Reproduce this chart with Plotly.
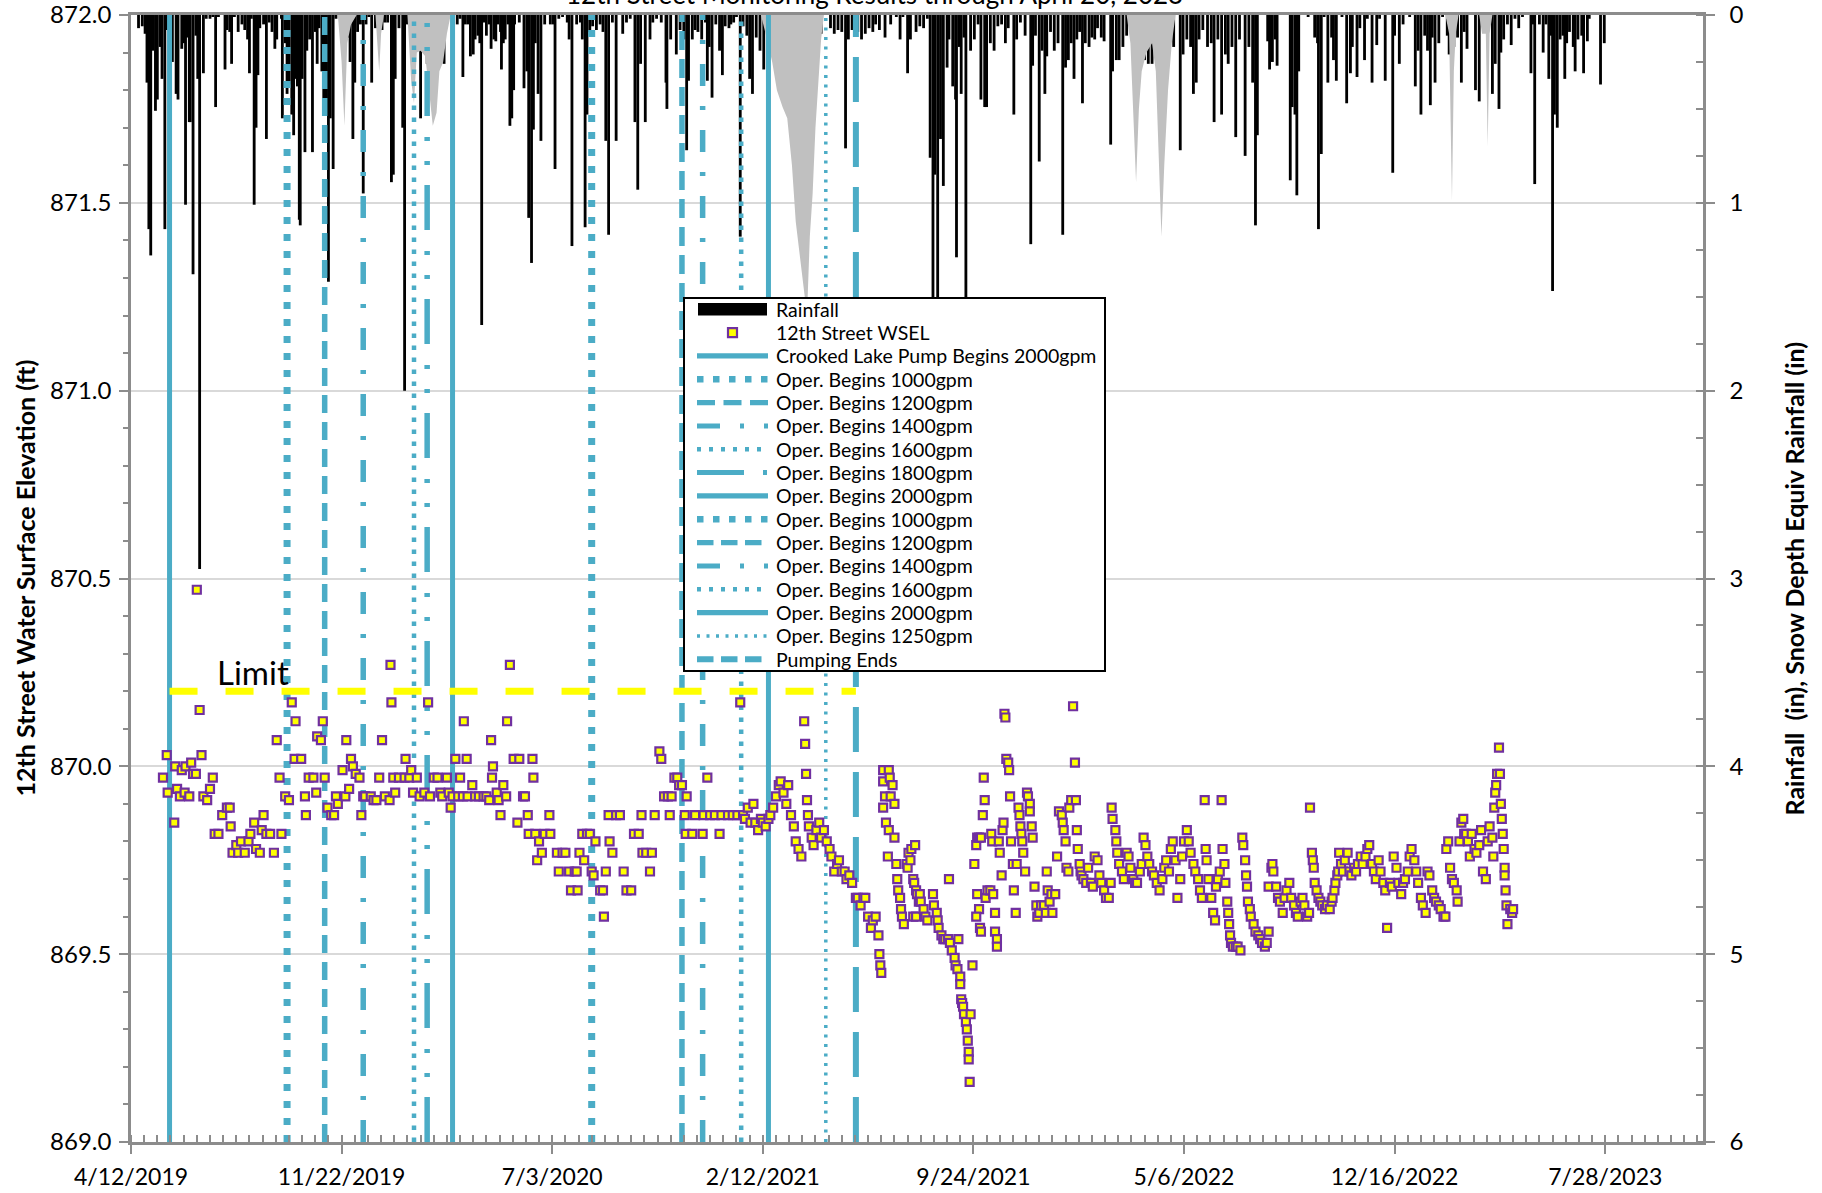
import pandas as pd
import plotly.graph_objects as go

BASE = pd.Timestamp("2019-04-12")
DAY_MS = 86400000

# ---------------- DATA (day offsets from 4/12/2019) ----------------
# Daily rainfall (in)
rain_2019 = [(8, .07), (12, .06), (15, .10), (17, .36), (19, 1.14), (21, 1.28), (23, .19), (26, .51), (28, .45),
    (31, .17), (33, .34), (36, 1.14), (38, .08), (44, .25), (48, .42), (50, .45), (54, .18), (56, .15), (58, 1.01),
    (60, .12), (62, .57), (63, .57), (66, 1.38), (69, .11), (71, .34), (73, 2.95), (77, .31), (80, .02), (84, .02),
    (87, .01), (90, .49), (93, .01), (100, .29), (102, .08), (105, .09), (107, .26), (110, .01), (114, .09), (118, .05),
    (121, .08), (124, .13), (126, .31), (128, .02), (131, 1.01), (133, .60), (135, .32), (137, .07), (141, .05),
    (144, .66), (147, .04), (150, .09), (153, .18), (155, .13), (160, .02), (161, .55), (164, .15), (166, .42),
    (168, .37), (171, .53), (173, .64), (175, .34), (177, .38), (179, 1.09), (180, 1.12), (182, .34), (185, .73),
    (187, .19), (190, .13), (193, .73), (196, .09), (198, .26), (200, .07), (203, .30), (205, .45), (207, .51),
    (210, 1.42), (212, .55), (215, .82), (218, .02), (224, .05), (228, .09), (231, .12), (233, .25), (236, .66),
    (238, .36), (241, .09), (244, .05), (247, .95), (250, .05), (253, .01), (256, .36), (260, .07), (264, .01),
    (267, .08), (270, .04), (273, .04), (277, .89), (279, .85), (281, .34), (285, .07), (289, .60), (291, 2.00),
    (294, .05), (299, .04), (304, .19), (306, .13), (308, .55), (311, .13), (315, .26), (319, .15), (322, .11),
    (324, .25), (327, .21), (330, .13), (333, .26), (336, .02)]
rain_2020 = [(347, .05), (350, .02), (353, .33), (355, .05), (358, .05), (361, .22), (364, .21), (366, .13),
    (369, .11), (371, .15), (373, 1.65), (375, .04), (378, .11), (381, .05), (383, .18), (386, .13), (388, .14),
    (390, .05), (393, .09), (394, .29), (396, .15), (398, .13), (401, .05), (403, .59), (405, .55), (407, .40),
    (408, .05), (413, .04), (418, .39), (421, .30), (423, 1.08), (426, 1.32), (428, .61), (430, .15), (433, .42),
    (436, .67), (440, .05), (446, .05), (449, .05), (451, .82), (455, .02), (459, .01), (464, .04), (466, .13),
    (469, 1.23), (474, .05), (478, .04), (480, .13), (483, 1.13), (485, .53), (488, .09), (491, .06), (495, .08),
    (499, .05), (502, .09), (505, .67), (508, 1.17), (512, .04), (516, .67), (523, .10), (527, .04), (531, .02),
    (536, .57), (539, .93), (542, .26), (547, .57), (552, .13), (555, .04), (559, .02), (564, .04), (569, .36),
    (570, .50), (574, .13), (580, .21), (584, .08), (588, .13), (591, .72), (593, .35), (597, .13), (600, .08),
    (603, .09), (607, .13), (611, .04), (613, .35), (615, .17), (618, .44), (622, .05), (626, .19), (629, .32),
    (632, .06), (636, .07), (638, .05), (641, .04), (644, .01), (648, 1.18), (651, .06), (655, .11), (658, .34),
    (661, .42), (665, .12), (669, .19), (673, .29), (682, .11), (686, .10), (692, .05), (698, .04), (702, .05)]
rain_2021 = [(704, .10), (709, .05), (713, .02), (719, .08), (723, .07), (727, .06), (732, .11), (734, .10),
    (744, .07), (748, .10), (752, .08), (756, .09), (760, .71), (763, .13), (767, .08), (773, .09), (777, .13),
    (781, .10), (785, .07), (789, .09), (792, .05), (796, .08), (802, .12), (808, .05), (814, .01), (818, .13),
    (821, .01), (826, .31), (829, .13), (835, .09), (839, .06), (843, .07), (847, .02), (850, .76), (853, 1.55),
    (855, .85), (858, 1.75), (861, .66), (864, .91), (868, .28), (870, .13), (874, .38), (877, .45), (878, 1.29),
    (881, .17), (883, .42), (886, .12), (888, 1.65), (893, .19), (897, .13), (901, .05), (904, .45), (908, .49),
    (910, .49), (914, .15), (918, .19), (922, .06), (926, .05), (930, .15), (933, .07), (939, .53), (942, .13),
    (946, .04), (951, .11), (957, 1.22), (959, .27), (962, .11), (966, .78), (969, .19), (972, .42), (974, .22),
    (978, .09), (982, .19), (986, .15), (991, 1.17), (994, .28), (997, .24), (1000, .15), (1003, .34), (1006, .13),
    (1009, .09), (1012, .47), (1015, .15), (1019, .17), (1022, .12), (1025, .13), (1028, .07), (1032, .12),
    (1035, .14), (1042, .69), (1044, .30), (1048, .24), (1051, .24), (1055, .17), (1059, .11), (1063, .09)]
rain_2022 = [(1069, .45), (1073, .08), (1078, .24), (1082, .26), (1086, .26), (1090, .11), (1094, .08), (1099, .11),
    (1104, .11), (1109, .17), (1116, .72), (1119, .21), (1123, .13), (1127, .17), (1130, .42), (1133, .36),
    (1136, .13), (1140, .08), (1145, .17), (1149, .15), (1152, .57), (1156, .13), (1160, .53), (1164, .21),
    (1167, .26), (1171, .17), (1175, .65), (1179, .13), (1185, .75), (1189, .17), (1193, .36), (1196, 1.12),
    (1198, .64), (1209, .14), (1211, .29), (1214, .25), (1217, .13), (1219, .27), (1233, .88), (1235, .49),
    (1238, .53), (1240, .96), (1242, .30), (1252, .01), (1259, .12), (1262, .15), (1263, 1.14), (1266, .74),
    (1269, .01), (1273, .36), (1277, .12), (1279, .24), (1282, .35), (1288, .01), (1293, .47), (1297, .31),
    (1299, .17), (1304, .33), (1307, .07), (1312, .24), (1315, .02), (1320, .36), (1325, .16), (1328, .02),
    (1334, .35), (1342, .84), (1344, .11), (1349, .26), (1353, .05), (1360, .01), (1366, .38), (1369, .19),
    (1372, .53), (1376, .11), (1379, .19), (1382, .48), (1384, .12), (1387, .36), (1391, .15), (1395, .01)]
rain_2023 = [(1400, .11), (1402, .21), (1407, .17), (1411, .12), (1415, .36), (1418, .09), (1421, .18), (1430, .40),
    (1434, .46), (1439, .05), (1442, .04), (1448, .42), (1451, .26), (1455, .50), (1457, .20), (1460, .13),
    (1464, .05), (1468, .16), (1472, .02), (1476, .07), (1480, .01), (1489, .31), (1491, .05), (1493, .90),
    (1498, .05), (1502, .20), (1505, .05), (1508, .34), (1510, .11), (1512, 1.47), (1514, .53), (1517, .60),
    (1520, .13), (1523, .11), (1525, .34), (1527, .15), (1530, .09), (1534, .17), (1536, .30), (1539, .13),
    (1543, .11), (1545, .31), (1549, .14), (1551, .02), (1563, .37), (1567, .15)]

# Snow depth equivalent rainfall (in)
snow_day = [220, 224, 227, 230, 234, 240, 260, 264, 266, 269,
            294, 298, 301, 304, 308, 313, 318, 321, 325, 328, 332, 336, 340,
            670, 676, 682, 687, 693, 698, 703, 707, 712, 716, 719, 722, 725, 728, 731, 734, 737,
            1059, 1063, 1066, 1069, 1072, 1075, 1080, 1086, 1090, 1093, 1096, 1099, 1103, 1107, 1111,
            1398, 1402, 1405, 1407, 1409, 1412, 1434, 1437, 1441, 1443, 1445, 1448]
snow_in = [0, .25, .59, .15, .05, 0, 0, .30, .10, 0,
           0, .35, .47, .20, .19, .22, .45, .59, .52, .30, .25, .10, 0,
           0, .12, .25, .40, .49, .55, .80, 1.10, 1.31, 1.45, 1.60, 1.18, .95, .60, .35, .13, 0,
           0, .15, .55, .89, .50, .30, .20, .15, .30, .70, 1.18, .80, .40, .15, 0,
           0, .10, .99, .30, .10, 0, 0, .10, .10, .70, .10, 0]

# 12th Street water surface elevation (ft)
wsel_2019 = [(34, 869.97), (38, 870.03), (39, 869.93), (46, 869.85), (47, 870.00), (49, 869.94), (52, 869.92),
    (54, 869.99), (57, 869.93), (58, 870.00), (62, 869.92), (64, 870.01), (66, 869.98), (69, 869.98), (70, 870.47),
    (73, 870.15), (75, 870.03), (77, 869.92), (81, 869.91), (84, 869.94), (87, 869.97), (89, 869.82), (93, 869.82),
    (97, 869.87), (102, 869.89), (105, 869.89), (106, 869.84), (108, 869.77), (112, 869.79), (114, 869.77),
    (117, 869.80), (121, 869.77), (125, 869.80), (127, 869.82), (131, 869.85), (133, 869.78), (137, 869.77),
    (139, 869.83), (141, 869.87), (144, 869.82), (148, 869.82), (152, 869.77), (155, 870.07), (158, 869.97),
    (160, 869.82), (164, 869.92), (168, 869.91), (171, 870.17), (174, 870.02), (175, 870.12), (181, 870.02),
    (185, 869.92), (186, 869.87), (189, 869.97), (194, 869.97), (197, 869.93), (198, 870.08), (202, 870.07),
    (204, 870.12), (206, 869.97), (209, 869.89), (213, 869.87), (216, 869.87), (218, 869.92), (220, 869.90),
    (225, 869.99), (228, 869.92), (229, 870.07), (232, 869.94), (234, 870.02), (236, 870.00), (239, 869.98),
    (243, 869.97), (245, 869.87), (247, 869.92), (249, 869.92), (255, 869.92), (258, 869.91), (261, 869.91),
    (264, 869.97), (267, 870.07), (270, 869.92), (275, 869.91), (276, 870.27), (277, 870.17), (279, 869.97),
    (281, 869.93), (285, 869.97), (291, 869.97), (292, 870.02), (296, 869.97), (298, 869.99), (300, 869.93),
    (304, 869.97), (307, 869.92), (312, 869.93), (316, 870.17), (318, 869.92), (322, 869.97), (326, 869.97),
    (329, 869.93), (331, 869.92), (336, 869.97), (338, 869.93), (340, 869.89), (342, 869.92), (345, 870.02)]
wsel_2020 = [(348, 869.92), (350, 869.97), (353, 869.92), (354, 870.12), (357, 870.02), (358, 869.92), (363, 869.95),
    (366, 869.92), (370, 869.92), (375, 869.92), (378, 869.92), (381, 869.91), (383, 870.07), (384, 869.97),
    (385, 870.00), (389, 869.93), (391, 869.91), (393, 869.87), (396, 869.95), (399, 869.92), (400, 870.12),
    (403, 870.27), (407, 870.02), (411, 869.85), (413, 870.02), (417, 869.92), (419, 869.92), (422, 869.87),
    (423, 869.82), (427, 870.02), (428, 869.97), (430, 869.82), (432, 869.75), (434, 869.80), (437, 869.77),
    (440, 869.82), (445, 869.87), (446, 869.82), (453, 869.77), (455, 869.72), (459, 869.77), (462, 869.77),
    (466, 869.72), (468, 869.67), (472, 869.72), (474, 869.72), (475, 869.67), (477, 869.77), (480, 869.82),
    (482, 869.75), (485, 869.82), (488, 869.82), (490, 869.72), (492, 869.71), (494, 869.80), (499, 869.67),
    (502, 869.67), (503, 869.60), (505, 869.72), (508, 869.87), (509, 869.80), (512, 869.77), (516, 869.87),
    (520, 869.87), (524, 869.72), (527, 869.67), (532, 869.67), (535, 869.82), (540, 869.82), (543, 869.87),
    (544, 869.77), (548, 869.77), (552, 869.72), (554, 869.77), (557, 869.87), (562, 870.04), (564, 870.02),
    (567, 869.92), (571, 869.92), (573, 869.87), (575, 869.92), (578, 869.97), (581, 869.97), (583, 869.95),
    (586, 869.95), (589, 869.87), (590, 869.82), (591, 869.92), (597, 869.82), (600, 869.87), (608, 869.82),
    (609, 869.87), (613, 869.97), (616, 869.87), (621, 869.87), (626, 869.82), (628, 869.87), (635, 869.87),
    (640, 869.87), (645, 869.87), (648, 870.17), (651, 869.87), (653, 869.86), (656, 869.89), (659, 869.85),
    (662, 869.90), (664, 869.85), (667, 869.83), (670, 869.86), (672, 869.85), (675, 869.84), (678, 869.86),
    (680, 869.87), (683, 869.89), (686, 869.92), (689, 869.95), (691, 869.96), (694, 869.93), (697, 869.90),
    (699, 869.95), (702, 869.87), (705, 869.84), (707, 869.80), (710, 869.78), (713, 869.76)]
wsel_2021 = [(716, 870.12), (717, 870.06), (718, 869.98), (719, 869.91), (720, 869.87), (721, 869.84), (724, 869.81),
    (726, 869.79), (729, 869.83), (732, 869.85), (734, 869.81), (737, 869.83), (740, 869.80), (743, 869.78),
    (745, 869.76), (748, 869.72), (751, 869.74), (753, 869.75), (756, 869.72), (759, 869.72), (761, 869.70),
    (764, 869.71), (767, 869.69), (771, 869.65), (773, 869.65), (776, 869.63), (779, 869.65), (781, 869.65),
    (784, 869.60), (787, 869.57), (789, 869.59), (792, 869.60), (795, 869.55), (796, 869.50), (797, 869.47),
    (798, 869.45), (800, 869.99), (806, 869.99), (800, 869.96), (807, 869.97), (802, 869.92), (808, 869.92),
    (810, 869.95), (812, 869.90), (800, 869.89), (803, 869.85), (806, 869.83), (812, 869.81), (805, 869.76),
    (814, 869.74), (815, 869.70), (816, 869.67), (818, 869.65), (819, 869.62), (820, 869.60), (822, 869.58),
    (825, 869.74), (826, 869.73), (827, 869.77), (829, 869.75), (830, 869.78), (834, 869.79), (832, 869.70),
    (833, 869.69), (835, 869.67), (836, 869.66), (838, 869.64), (839, 869.66), (832, 869.60), (835, 869.60),
    (840, 869.64), (843, 869.62), (845, 869.60), (847, 869.59), (853, 869.66), (854, 869.63), (857, 869.61),
    (858, 869.59), (859, 869.57), (862, 869.55), (864, 869.54), (866, 869.54), (869, 869.54), (871, 869.53),
    (873, 869.51), (876, 869.49), (877, 869.47), (879, 869.46), (882, 869.44), (882, 869.42), (883, 869.38),
    (884, 869.37), (885, 869.36), (886, 869.34), (888, 869.32), (889, 869.30), (890, 869.27), (891, 869.24),
    (891, 869.22), (892, 869.16), (880, 869.54), (893, 869.34), (895, 869.47), (870, 869.70), (897, 869.74),
    (899, 869.79), (900, 869.81), (902, 869.81), (904, 869.81), (906, 869.87), (907, 869.97), (908, 869.91),
    (900, 869.66), (902, 869.62), (899, 869.60), (903, 869.57), (904, 869.56), (909, 869.65), (911, 869.67),
    (914, 869.67), (915, 869.82), (916, 869.80), (917, 869.66), (919, 869.61), (919, 869.56), (921, 869.54),
    (921, 869.52), (923, 869.80), (924, 869.77), (926, 869.71), (927, 869.83), (928, 869.85), (929, 870.14),
    (930, 870.13), (931, 870.02), (933, 870.01), (934, 869.99), (935, 869.92), (936, 869.80), (938, 869.74),
    (939, 869.67), (941, 869.61), (942, 869.74), (944, 869.89), (945, 869.87), (946, 869.84), (947, 869.82),
    (948, 869.80), (949, 869.77), (951, 869.72), (953, 869.93), (954, 869.92), (956, 869.90), (956, 869.88),
    (958, 869.84), (959, 869.81), (961, 869.68), (963, 869.63), (964, 869.60), (966, 869.61), (968, 869.63),
    (971, 869.63), (973, 869.61), (975, 869.67), (977, 869.64), (979, 869.66), (980, 869.61), (983, 869.66),
    (974, 869.72), (985, 869.76), (987, 869.88), (990, 869.87), (991, 869.85), (992, 869.83), (994, 869.80),
    (995, 869.73), (997, 869.72), (998, 869.89), (1000, 869.91), (1002, 870.16), (1004, 870.01), (1005, 869.91),
    (1006, 869.83), (1007, 869.78), (1009, 869.74), (1010, 869.72)]
wsel_2022 = [(1011, 869.71), (1013, 869.70), (1016, 869.69), (1018, 869.73), (1021, 869.69), (1023, 869.68),
    (1025, 869.76), (1028, 869.75), (1030, 869.71), (1032, 869.69), (1035, 869.67), (1037, 869.65), (1040, 869.65),
    (1042, 869.69), (1043, 869.89), (1044, 869.86), (1047, 869.83), (1048, 869.80), (1049, 869.77), (1051, 869.74),
    (1054, 869.72), (1056, 869.70), (1059, 869.77), (1061, 869.76), (1063, 869.73), (1066, 869.70), (1068, 869.69),
    (1070, 869.69), (1073, 869.72), (1075, 869.74), (1077, 869.81), (1079, 869.79), (1081, 869.76), (1083, 869.74),
    (1086, 869.72), (1088, 869.71), (1091, 869.69), (1094, 869.67), (1097, 869.70), (1099, 869.73), (1101, 869.75),
    (1104, 869.72), (1106, 869.78), (1108, 869.80), (1111, 869.75), (1113, 869.65), (1116, 869.70), (1118, 869.76),
    (1120, 869.80), (1123, 869.83), (1125, 869.80), (1127, 869.77), (1130, 869.74), (1132, 869.72), (1135, 869.70),
    (1137, 869.67), (1139, 869.65), (1142, 869.91), (1143, 869.78), (1144, 869.75), (1146, 869.70), (1149, 869.65),
    (1151, 869.61), (1153, 869.59), (1154, 869.68), (1156, 869.70), (1158, 869.72), (1160, 869.91), (1161, 869.78),
    (1163, 869.74), (1164, 869.69), (1166, 869.64), (1167, 869.61), (1168, 869.58), (1169, 869.55), (1170, 869.53),
    (1172, 869.52), (1175, 869.52), (1177, 869.52), (1180, 869.51), (1182, 869.81), (1183, 869.79), (1185, 869.75),
    (1186, 869.71), (1187, 869.68), (1188, 869.64), (1190, 869.62), (1191, 869.60), (1194, 869.58), (1196, 869.56),
    (1199, 869.55), (1201, 869.54), (1203, 869.53), (1206, 869.52), (1208, 869.53), (1210, 869.56), (1210, 869.68),
    (1213, 869.73), (1214, 869.74), (1215, 869.72), (1218, 869.68), (1220, 869.65), (1222, 869.64), (1225, 869.61),
    (1227, 869.65), (1229, 869.67), (1232, 869.69), (1234, 869.65), (1237, 869.63), (1239, 869.61), (1241, 869.60),
    (1244, 869.64), (1246, 869.65), (1248, 869.63), (1251, 869.60), (1253, 869.61), (1254, 869.89), (1256, 869.77),
    (1257, 869.75), (1258, 869.73), (1259, 869.69), (1261, 869.67), (1263, 869.65), (1265, 869.64), (1267, 869.63),
    (1270, 869.62), (1272, 869.63), (1275, 869.62), (1277, 869.64), (1278, 869.65), (1280, 869.67), (1281, 869.69),
    (1283, 869.71), (1284, 869.72), (1285, 869.77), (1287, 869.74), (1289, 869.72), (1291, 869.75), (1294, 869.77),
    (1296, 869.72), (1298, 869.71), (1301, 869.73), (1303, 869.72), (1305, 869.74), (1308, 869.76), (1310, 869.74),
    (1313, 869.76), (1315, 869.78), (1317, 869.79), (1320, 869.74), (1322, 869.72), (1324, 869.70), (1327, 869.75),
    (1329, 869.72), (1332, 869.69), (1334, 869.67), (1336, 869.57), (1339, 869.69), (1341, 869.68), (1343, 869.76),
    (1346, 869.73), (1348, 869.69), (1351, 869.66), (1353, 869.69), (1355, 869.70), (1358, 869.72), (1360, 869.76),
    (1362, 869.78), (1365, 869.75), (1367, 869.72), (1369, 869.69), (1372, 869.65), (1374, 869.63), (1377, 869.61),
    (1379, 869.72), (1381, 869.71), (1384, 869.67), (1386, 869.65), (1388, 869.64), (1391, 869.63), (1393, 869.62)]
wsel_2023 = [(1396, 869.60), (1398, 869.60), (1399, 869.78), (1401, 869.80), (1403, 869.73), (1405, 869.70),
    (1407, 869.69), (1410, 869.67), (1411, 869.64), (1413, 869.80), (1415, 869.85), (1417, 869.86), (1418, 869.82),
    (1420, 869.82), (1422, 869.80), (1424, 869.76), (1426, 869.82), (1429, 869.78), (1431, 869.77), (1434, 869.79),
    (1436, 869.83), (1438, 869.72), (1441, 869.70), (1443, 869.80), (1445, 869.84), (1448, 869.81), (1449, 869.76),
    (1450, 869.89), (1451, 869.93), (1452, 869.95), (1453, 869.98), (1455, 870.05), (1456, 869.98), (1457, 869.90),
    (1458, 869.86), (1459, 869.82), (1460, 869.78), (1461, 869.73), (1461, 869.71), (1462, 869.67), (1463, 869.63),
    (1464, 869.58), (1467, 869.62), (1469, 869.61), (1470, 869.62)]

# Pumping events (vertical markers)
event_day = [41, 166, 206, 247, 301, 315, 342, 490, 586, 608, 649, 678, 739, 771]
event_label = ["Crooked Lake Pump Begins 2000gpm", "Oper. Begins 1000gpm", "Oper. Begins 1200gpm",
               "Oper. Begins 1400gpm", "Oper. Begins 1600gpm", "Oper. Begins 1800gpm", "Oper. Begins 2000gpm",
               "Oper. Begins 1000gpm", "Oper. Begins 1200gpm", "Oper. Begins 1400gpm", "Oper. Begins 1600gpm",
               "Oper. Begins 2000gpm", "Oper. Begins 1250gpm", "Pumping Ends"]
event_style = ["solid", "rdot", "dash", "ldd", "sdot", "lddd", "solid",
               "rdot", "dash2", "ldd", "sdot", "solid", "fdot", "ldash"]
limit_ft = 870.2
limit_label = "Limit"
title_text = "12th Street Monitoring Results through April 20, 2023"
left_title = "12th Street Water Surface Elevation (ft)"
right_title = "Rainfall  (in), Snow Depth Equiv Rainfall (in)"

# ---------------- STYLE ----------------
TEAL = "#4BACC6"
GRAY = "#8C8C8C"
FONT = "Lato, 'Liberation Sans', sans-serif"
W, H = 1822, 1193
ML, MR, MT, MB = 131, 119, 15, 51
PW, PH = W - ML - MR, H - MT - MB

# chart dash / width per style; legend sample dash per style
STYLES = {
    "solid": ("solid", 5, "solid", 5.3),
    "rdot": ("7px,10px", 7, "6.5px,9.5px", 6.5),
    "dash": ("18px,9px", 5.5, "18px,8.5px", 5.3),
    "dash2": ("19px,9px", 5.5, "16.5px,7.5px", 5.3),
    "ldd": ("22px,20px,4px,20px", 5.5, "23px,20px,4px,20px,4px,20px", 5),
    "sdot": ("4.5px,7.5px", 4.5, "4px,8px", 4.5),
    "lddd": ("45px,20px,4px,20px,4px,21px", 5.5, "47px,19px,4px,30px", 5),
    "fdot": ("3px,6.5px", 3.5, "3px,6.5px", 3.5),
    "ldash": ("45px,20px", 6, "16.5px,7.5px", 6),
}


def to_dates(days):
    return [BASE + pd.Timedelta(days=float(v)) for v in days]


def px(X):
    return (X - ML) / PW


def py(Y):
    return 1 - (Y - MT) / PH


rain_all = rain_2019 + rain_2020 + rain_2021 + rain_2022 + rain_2023
wsel_all = wsel_2019 + wsel_2020 + wsel_2021 + wsel_2022 + wsel_2023

fig = go.Figure()

fig.add_trace(go.Scatter(x=to_dates(snow_day), y=snow_in, mode="lines", fill="tozeroy",
                         fillcolor="#C0C0C0", line=dict(width=0, color="#C0C0C0"),
                         name="Snow Depth Equiv Rainfall", showlegend=False, yaxis="y", hoverinfo="skip"))
fig.add_trace(go.Bar(x=to_dates([p[0] for p in rain_all]), y=[p[1] for p in rain_all],
                     width=3.0 * DAY_MS, marker=dict(color="black", line=dict(width=0)),
                     name="Rainfall", showlegend=False, yaxis="y"))

for dday, lab, sty in zip(event_day, event_label, event_style):
    dash, wid, _, _ = STYLES[sty]
    dt = to_dates([dday])[0]
    fig.add_trace(go.Scatter(x=[dt, dt], y=[869, 872], mode="lines", yaxis="y2",
                             line=dict(color=TEAL, width=wid, dash=dash), name=lab, showlegend=False))

fig.add_trace(go.Scatter(x=to_dates([event_day[0], event_day[-1]]), y=[limit_ft, limit_ft], mode="lines",
                         yaxis="y2", line=dict(color="#FFFF00", width=7, dash="28px,28px"),
                         name="Limit", showlegend=False))

fig.add_trace(go.Scatter(x=to_dates([p[0] for p in wsel_all]), y=[p[1] for p in wsel_all], mode="markers",
                         yaxis="y2", name="12th Street WSEL", showlegend=False,
                         marker=dict(symbol="square", size=8, color="#FFFF00",
                                     line=dict(color="#7030A0", width=2.2))))

# ---------------- manual legend ----------------
shapes = []
annotations = []
LX0, LX1, LY0, LY1 = 684, 1105, 298, 671
ROW0, STEP = 309.3, 23.33
SX0, SX1, TX = 697, 768, 774
shapes.append(dict(type="rect", xref="paper", yref="paper", x0=px(LX0), x1=px(LX1), y0=py(LY1), y1=py(LY0),
                   line=dict(color="black", width=2), fillcolor="white", layer="above"))
legend_rows = ["Rainfall", "12th Street WSEL"] + event_label
for i, lab in enumerate(legend_rows):
    yc = ROW0 + i * STEP
    if i == 0:
        shapes.append(dict(type="rect", xref="paper", yref="paper", x0=px(698), x1=px(767),
                           y0=py(yc + 6.3), y1=py(yc - 6.3), fillcolor="black", line=dict(width=0)))
    elif i == 1:
        shapes.append(dict(type="rect", xref="paper", yref="paper", x0=px(728), x1=px(737),
                           y0=py(yc + 4.5), y1=py(yc - 4.5), fillcolor="#FFFF00",
                           line=dict(color="#7030A0", width=2.2)))
    else:
        _, _, ldash, lw = STYLES[event_style[i - 2]]
        shapes.append(dict(type="line", xref="paper", yref="paper", x0=px(SX0), x1=px(SX1),
                           y0=py(yc), y1=py(yc), line=dict(color=TEAL, width=lw, dash=ldash)))
    annotations.append(dict(text=lab, xref="paper", yref="paper", x=px(TX), y=py(yc), xanchor="left",
                            yanchor="middle", showarrow=False, font=dict(family=FONT, size=19.5, color="black")))

# title (cut off at top edge, as in the reference)
annotations.append(dict(text=title_text, xref="paper", yref="paper", x=px(874), y=py(-6), xanchor="center",
                        yanchor="middle", showarrow=False, font=dict(family=FONT, size=26, color="black")))
# Limit label
annotations.append(dict(text=limit_label, xref="x", yref="y2", x=BASE + pd.Timedelta(days=130), y=870.25,
                        xanchor="center", yanchor="middle", showarrow=False,
                        font=dict(family=FONT, size=33, color="black")))
# axis titles
annotations.append(dict(text="<b>%s</b>" % left_title, xref="paper", yref="paper", x=px(24), y=0.5,
                        textangle=-90, xanchor="center", yanchor="middle", showarrow=False,
                        font=dict(family=FONT, size=25, color="black")))
annotations.append(dict(text="<b>%s</b>" % right_title, xref="paper", yref="paper", x=px(1793), y=0.5,
                        textangle=-90, xanchor="center", yanchor="middle", showarrow=False,
                        font=dict(family=FONT, size=25, color="black")))

fig.update_layout(
    width=W, height=H, margin=dict(l=ML, r=MR, t=MT, b=MB, pad=0, autoexpand=False),
    paper_bgcolor="white", plot_bgcolor="white", showlegend=False,
    font=dict(family=FONT, color="black"),
    barmode="overlay",
    xaxis=dict(type="date", range=[BASE, BASE + pd.Timedelta(days=1672)], tick0=BASE, dtick=224 * DAY_MS,
               tickformat="%-m/%-d/%Y", ticks="outside", ticklen=9, tickwidth=2, tickcolor=GRAY,
               minor=dict(tick0=BASE, dtick=14 * DAY_MS, ticks="inside", ticklen=7, tickwidth=1.5, tickcolor=GRAY),
               showline=True, linecolor=GRAY, linewidth=2.5, mirror=True, showgrid=False, zeroline=False,
               automargin=False, ticklabeloverflow="allow", tickfont=dict(size=23, color="black"),
               ticklabelstandoff=4),
    yaxis=dict(side="right", range=[6, 0], tick0=0, dtick=1, showgrid=True, gridcolor="#D9D9D9", gridwidth=1.5,
               showline=True, linecolor=GRAY, linewidth=2.5, ticks="outside", ticklen=9, tickwidth=2,
               tickcolor=GRAY, minor=dict(dtick=0.25, ticks="inside", ticklen=7, tickwidth=1.5, tickcolor=GRAY),
               zeroline=False, automargin=False, ticklabeloverflow="allow",
               tickfont=dict(size=24, color="black"), ticklabelstandoff=10),
    yaxis2=dict(overlaying="y", side="left", anchor="x", range=[869, 872], tick0=869, dtick=0.5,
                tickformat=".1f", showgrid=False, zeroline=False, showline=True, linecolor=GRAY, linewidth=2.5,
                ticks="outside", ticklen=9, tickwidth=2, tickcolor=GRAY,
                minor=dict(dtick=0.1, ticks="outside", ticklen=5, tickwidth=1.5, tickcolor=GRAY),
                automargin=False, ticklabeloverflow="allow", tickfont=dict(size=24, color="black"),
                ticklabelstandoff=3),
    shapes=shapes, annotations=annotations,
)

fig.write_html("out.html", config={"displayModeBar": False},
               post_script="document.body.style.margin='0';document.body.style.overflow='hidden';")
